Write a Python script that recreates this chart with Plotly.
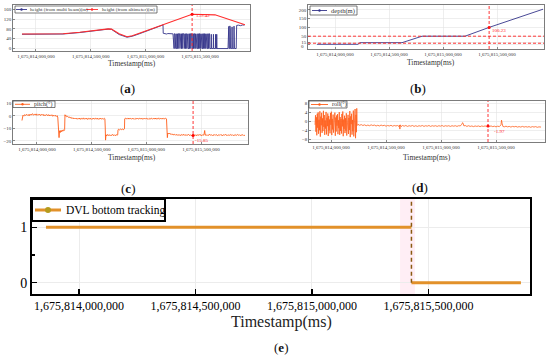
import plotly.graph_objects as go

W, H = 550, 360
T0 = 1675814000000  # ms, base of the time axis

# ---------------- data ----------------
x_tick_offsets_s = [0, 500, 1000, 1500]
x_tick_labels = ["1,675,814,000,000", "1,675,814,500,000",
                 "1,675,815,000,000", "1,675,815,500,000"]
loss_time_s = 1427

# (a) height (time offset s, m)
multibeam_height = [
    (-128, 58), (247, 59), (400, 65), (494, 71), (600, 76), (660, 79), (690, 78),
    (760, 57), (832, 46), (880, 50), (951, 61), (1060, 79), (1161, 96),
    (1163, 62), (1175, 60), (1185, 61), (1195, 59), (1205, 61), (1215, 60),
    (1225, 59), (1235, 61), (1245, 60), (1252, 60), (1256, 0), (1262, 0),
    (1264, 60), (1270, 60), (1272, 0), (1275, 60), (1281, 60), (1283, 0),
    (1290, 0), (1292, 60), (1296, 0), (1299, 60), (1305, 60), (1307, 0),
    (1311, 60), (1318, 60), (1320, 0), (1326, 0), (1328, 60), (1331, 0),
    (1334, 60), (1340, 60), (1342, 0), (1345, 60), (1352, 60), (1354, 0),
    (1360, 0), (1362, 60), (1366, 0), (1369, 60), (1376, 60), (1378, 0),
    (1382, 60), (1388, 60), (1390, 0), (1398, 0), (1400, 60), (1403, 0),
    (1406, 60), (1413, 60), (1415, 0), (1420, 60), (1426, 60), (1428, 0),
    (1434, 0), (1436, 60), (1440, 0), (1443, 60), (1450, 60), (1452, 0),
    (1457, 60), (1462, 0), (1466, 60), (1472, 60), (1474, 0), (1480, 0),
    (1482, 60), (1486, 0), (1489, 60), (1495, 60), (1497, 0), (1501, 60),
    (1506, 0), (1510, 60), (1516, 60), (1518, 0), (1524, 0), (1526, 60),
    (1530, 0), (1533, 60), (1540, 60), (1542, 0), (1547, 60), (1552, 0),
    (1556, 60), (1562, 60), (1564, 0), (1570, 0), (1572, 60), (1576, 0),
    (1580, 60), (1586, 60), (1588, 0), (1600, 0), (1602, 58), (1604, 0),
    (1620, 0), (1622, 58), (1624, 0), (1640, 0), (1642, 58), (1644, 0),
    (1650, 0), (1652, 58), (1654, 0), (1755, 0), (1757, 90), (1762, 90),
    (1764, 0), (1770, 0), (1772, 92), (1776, 80), (1778, 0), (1790, 0),
    (1792, 88), (1795, 0), (1808, 0), (1810, 91), (1814, 0), (1830, 0),
    (1834, 94), (1850, 95), (1870, 93), (1890, 96), (1905, 95),
]
altimeter_height = [
    (-128, 59), (247, 60), (400, 66), (494, 72), (600, 77), (660, 80), (690, 79),
    (760, 60), (832, 48), (880, 52), (951, 63), (1060, 80), (1161, 96),
    (1250, 112), (1427, 139.42), (1636, 137), (1910, 97),
]
altimeter_at_loss = 139.42

# (b) depth
depth = [(-167, 4), (213, 4), (231, 13), (620, 13), (806, 50), (1204, 50),
         (1427, 100.23), (1926, 204)]
depth_at_loss = 100.23
depth_limits = [10, 50]
depth_ticks = [0, 15, 50, 100, 150, 200]

# (c) pitch (deg)
pitch = [
    (-137, -3.8), (-133, -1.2), (-128, 0.4), (-120, -0.3), (-112, 0.9), (-104, 0.2),
    (-96, 1.1), (-88, 0.3), (-80, 1.0), (-72, -0.1), (-64, 1.3), (-56, 0.5),
    (-48, 0.9), (-40, 1.6), (-32, 0.4), (-24, 1.2), (-16, 0.6), (-8, 1.5),
    (0, 0.3), (8, 1.1), (16, 0.6), (24, 1.4), (32, 0.2), (40, 1.0), (48, 0.5),
    (56, 1.2), (64, -0.1), (72, 0.8), (80, 0.2), (88, 1.0), (96, 0.1), (104, 0.9),
    (112, -0.2), (120, 0.7), (128, 0.0), (136, 0.8), (144, -0.4), (152, 0.5),
    (160, -0.3), (168, 0.4), (176, -0.6), (184, 0.1), (190, -1.0),
    (194, -6), (198, -11), (202, -17.5), (206, -12), (212, -13.5), (218, -11.8),
    (224, -12.8), (230, -11.5), (236, -12.4), (242, -11.2), (248, -11.9),
    (253, -11), (256, 0.8),
    (260, -0.2), (266, 0.3), (272, -0.8), (280, -0.4), (288, -1.3), (296, -0.9),
    (304, -1.8), (312, -1.2), (320, -2.3), (328, -1.6), (336, -2.5), (344, -1.8),
    (352, -2.6), (360, -1.9), (368, -2.8), (376, -2.0), (384, -2.7), (392, -1.8),
    (400, -2.9), (408, -2.1), (416, -2.6), (424, -1.7), (432, -2.8), (440, -2.0),
    (448, -2.7), (456, -1.9), (464, -3.0), (472, -2.1), (480, -2.6), (488, -1.8),
    (496, -2.9), (504, -2.2), (512, -2.7), (520, -1.9), (528, -2.8), (536, -2.0),
    (544, -2.6), (552, -1.8), (560, -2.9), (568, -2.1), (576, -2.7), (584, -1.9),
    (592, -2.8), (600, -2.2), (608, -2.6), (616, -2.0), (621, -2.5),
    (624, -9), (627, -19.5), (631, -15.2), (637, -16.1), (644, -15.0), (652, -15.9),
    (660, -15.1), (668, -16.0), (676, -15.3), (684, -15.8), (692, -14.9),
    (700, -15.9), (708, -15.2), (716, -16.0), (724, -15.1), (732, -15.7),
    (738, -15.3),
    (741, -11.2), (748, -10.8), (756, -11.3), (764, -10.7), (772, -11.1),
    (780, -10.6), (788, -11.2), (796, -10.8), (800, -10.5),
    (802, -2.4), (808, -1.9), (816, -2.6), (824, -2.0), (832, -2.7), (840, -1.8),
    (848, -2.5), (856, -2.1), (864, -2.8), (872, -1.9), (880, -2.6), (888, -2.2),
    (896, -2.9), (904, -2.0), (912, -2.5), (920, -1.8), (928, -2.7), (936, -2.1),
    (944, -2.6), (952, -1.9), (960, -2.8), (968, -2.2), (976, -2.5), (984, -1.8),
    (992, -2.7), (1000, -2.0), (1008, -2.6), (1016, -2.2), (1024, -2.9),
    (1032, -2.0), (1040, -2.5), (1048, -1.9), (1056, -2.8), (1064, -2.1),
    (1072, -2.6), (1080, -1.8), (1088, -2.7), (1096, -2.2), (1104, -2.5),
    (1112, -1.7), (1120, -2.8), (1128, -2.1), (1136, -2.6), (1144, -1.9),
    (1152, -2.7), (1160, -2.0), (1168, -2.5), (1176, -1.9), (1184, -2.6),
    (1189, -9), (1192, -17.5), (1196, -13.8), (1202, -14.6), (1210, -13.9),
    (1218, -14.8), (1226, -14.3), (1234, -15.2), (1242, -14.6), (1250, -15.4),
    (1258, -14.8), (1266, -15.6), (1274, -14.9), (1282, -15.7), (1290, -15.0),
    (1298, -15.8), (1306, -15.1), (1314, -15.9), (1322, -15.0), (1330, -15.6),
    (1338, -14.8), (1346, -15.7), (1354, -15.0), (1362, -15.9), (1370, -15.1),
    (1378, -15.6), (1386, -14.9), (1394, -15.8), (1402, -15.2), (1410, -16.0),
    (1418, -15.3), (1427, -15.85), (1434, -15.0), (1442, -15.9), (1450, -15.2),
    (1458, -16.1), (1466, -15.1), (1474, -15.8), (1482, -14.9), (1490, -15.7),
    (1498, -15.1), (1506, -16.0), (1514, -15.2), (1522, -15.6), (1528, -14.5),
    (1533, -11.8), (1538, -15.6), (1546, -15.0), (1554, -15.9), (1562, -15.2),
    (1570, -15.7), (1578, -14.8), (1586, -15.6), (1594, -15.1), (1602, -15.9),
    (1610, -15.2), (1618, -15.8), (1626, -15.0), (1634, -15.7), (1642, -15.1),
    (1650, -15.9), (1658, -15.3), (1666, -15.8), (1674, -15.0), (1682, -15.7),
    (1690, -15.2), (1698, -16.0), (1706, -15.1), (1714, -15.6), (1722, -14.9),
    (1730, -15.7), (1738, -15.2), (1746, -15.9), (1754, -15.1), (1762, -15.8),
    (1770, -15.0), (1778, -15.6), (1786, -15.2), (1794, -15.9), (1802, -15.3),
    (1810, -15.8), (1818, -15.1), (1826, -15.7), (1834, -15.0), (1842, -15.6),
    (1850, -15.2), (1858, -15.9), (1866, -15.3), (1874, -15.7), (1882, -15.1),
    (1890, -15.8), (1898, -15.3), (1901, -15.6),
]
pitch_at_loss = -15.85

# (d) roll (deg)
roll = [
    (-145, -1.5), (-141, 2.8), (-137, -4.6), (-133, 1.9), (-129, -6.2), (-125, 3.5),
    (-121, -2.8), (-117, 4.1), (-113, -5.5), (-109, 0.8), (-105, -3.9), (-101, 4.6),
    (-97, -6.8), (-93, 2.2), (-89, -1.7), (-85, 3.9), (-81, -5.1), (-77, 1.4),
    (-73, -4.3), (-69, 4.8), (-65, -2.4), (-61, 2.9), (-57, -6.0), (-53, 0.5),
    (-49, -3.2), (-45, 4.3), (-41, -5.8), (-37, 1.7), (-33, -2.1), (-29, 3.6),
    (-25, -6.5), (-21, 2.5), (-17, -4.0), (-13, 0.9), (-9, -5.3), (-5, 3.8),
    (-1, -1.5), (3, 4.4), (7, -6.1), (11, 1.2), (15, -3.6), (19, 3.1), (23, -5.0),
    (27, 0.3), (31, -2.7), (35, 4.0), (39, -6.4), (43, 1.8), (47, -4.5), (51, 2.7),
    (55, -1.9), (59, 3.3), (63, -5.7), (67, 0.6), (71, -3.0), (75, 4.2), (79, -6.0),
    (83, 2.0), (87, -4.2), (91, 1.1), (95, -5.4), (99, 3.4), (103, -2.2), (107, 4.5),
    (111, -6.6), (115, 0.9), (119, -3.3), (123, 2.6), (127, -5.2), (131, 1.5),
    (135, -4.1), (139, 3.7), (143, -6.3), (147, 0.2), (151, -2.5), (155, 3.0),
    (159, -5.6), (163, 1.6), (167, -3.8), (171, 4.7), (175, -7.0), (179, 2.3),
    (183, -1.2), (187, 3.5), (191, -5.9), (195, 0.7), (199, -4.4), (203, 4.9),
    (207, -6.7), (211, 1.3), (215, -3.1), (219, 5.6), (223, -7.5), (227, 3.0),
    (231, -4.8), (234, 5.9), (237, -1.8),
    (245, -1.3), (260, -1.7), (275, -1.4), (290, -1.8), (305, -1.5), (320, -1.9),
    (335, -1.6), (350, -1.9), (365, -1.5), (380, -1.8), (395, -1.6), (410, -2.0),
    (425, -1.7), (440, -2.0), (455, -1.6), (470, -1.9), (485, -1.7), (500, -2.1),
    (515, -1.8), (530, -2.0), (545, -1.7), (560, -2.1), (575, -1.8), (590, -2.0),
    (605, -1.8), (615, -2.2), (622, -1.6), (626, -3.4), (630, -1.5), (638, -2.3),
    (650, -1.8), (665, -2.1), (680, -1.8), (695, -2.2), (710, -1.9), (725, -2.1),
    (740, -1.8), (755, -2.2), (770, -1.9), (785, -2.2), (800, -1.9), (815, -2.1),
    (830, -1.8), (845, -2.2), (860, -1.9), (875, -2.1), (890, -1.8), (905, -2.2),
    (920, -1.9), (935, -2.1), (950, -1.9), (965, -2.2), (980, -1.9), (995, -2.1),
    (1010, -1.8), (1025, -2.2), (1040, -1.9), (1055, -2.1), (1070, -1.9),
    (1085, -2.2), (1100, -1.9), (1115, -2.1), (1130, -1.9), (1145, -2.2),
    (1160, -1.9), (1175, -2.0), (1190, -1.2), (1196, -0.5), (1202, -1.0),
    (1208, -2.0), (1220, -1.8), (1235, -2.2), (1250, -1.9), (1265, -2.2),
    (1280, -2.0), (1295, -2.3), (1310, -2.0), (1325, -2.2), (1340, -2.0),
    (1355, -2.3), (1370, -2.0), (1385, -2.2), (1400, -2.0), (1415, -2.2),
    (1427, -1.97), (1440, -2.2), (1455, -2.0), (1470, -2.3), (1485, -2.1),
    (1500, -2.4), (1515, -2.1), (1530, -2.3), (1545, -1.5), (1550, 0.6),
    (1555, -0.8), (1562, -2.2), (1575, -2.4), (1590, -2.1), (1605, -2.4),
    (1620, -2.2), (1635, -2.5), (1650, -2.2), (1665, -2.4), (1680, -2.2),
    (1695, -2.5), (1710, -2.3), (1725, -2.5), (1740, -2.2), (1755, -2.5),
    (1770, -2.3), (1785, -2.5), (1800, -2.3), (1815, -2.6), (1830, -2.3),
    (1845, -2.5), (1860, -2.3), (1875, -2.6), (1890, -2.4), (1909, -2.5),
]
roll_at_loss = -1.97

# (e) DVL bottom tracking state
dvl_time_s = [-142, 1427, 1427, 1427, 1897]
dvl_state = [1, 1, None, 0, 0]

# ---------------- geometry / style ----------------
SERIF = "Liberation Serif"
panels = {
    "a": dict(xd=(13, 250), yd=(5, 51), xr=(-210, 1956), yr=(-10, 177),
              yt=[0, 40, 80, 120, 160]),
    "b": dict(xd=(308, 544), yd=(5, 49), xr=(-250, 1935), yr=(-23, 228),
              yt=depth_ticks),
    "c": dict(xd=(13, 248), yd=(101, 144), xr=(-219, 1929), yr=(-22.6, 11.8),
              yt=[-20, -10, 0, 10]),
    "d": dict(xd=(309, 545), yd=(101, 142), xr=(-200, 1945), yr=(-9.2, 9.2),
              yt=[-8, -4, 0, 4, 8]),
    "e": dict(xd=(32, 530), yd=(199, 294), xr=(-202, 1936), yr=(-0.204, 1.51),
              yt=[0, 1]),
}
order = ["a", "b", "c", "d", "e"]


def ms(seq):
    return [None if s is None else T0 + s * 1000 for s in seq]


def px(x):
    return x / W


def py(y):
    return 1 - y / H


fig = go.Figure()
layout = dict(width=W, height=H, margin=dict(l=0, r=0, t=0, b=0),
              paper_bgcolor="white", plot_bgcolor="white", showlegend=False)

for i, k in enumerate(order):
    p = panels[k]
    sfx = "" if i == 0 else str(i + 1)
    big = k == "e"
    common = dict(showline=True, mirror=True, zeroline=False,
                  linecolor="black" if big else "#444",
                  linewidth=2 if big else 0.7,
                  ticks="inside", ticklen=5 if big else 2,
                  tickwidth=1.5 if big else 0.6,
                  tickcolor="black" if big else "#444",
                  showgrid=True, gridcolor="#ececec" if big else "#e2e2e2",
                  gridwidth=1 if big else 0.6,
                  tickfont=dict(family=SERIF, size=12 if big else 5,
                                color="black" if big else "#333"))
    layout["xaxis" + sfx] = dict(
        common, domain=[px(p["xd"][0]), px(p["xd"][1])],
        anchor="y" + sfx, range=ms(p["xr"]),
        tickmode="array", tickvals=ms(x_tick_offsets_s), ticktext=x_tick_labels)
    ya = dict(common, domain=[py(p["yd"][1]), py(p["yd"][0])],
              anchor="x" + sfx, range=list(p["yr"]),
              tickmode="array", tickvals=p["yt"])
    if k == "b":
        # the "0" label is written separately just below, as in the source figure
        ya["ticktext"] = ["" if t == 0 else str(t) for t in p["yt"]]
    if big:
        ya["tickfont"] = dict(family=SERIF, size=14, color="black")
        ya["minor"] = dict(ticks="inside", ticklen=3, tickwidth=1.2,
                           tickcolor="black", tickmode="array", tickvals=[0.5],
                           showgrid=False)
    layout["yaxis" + sfx] = ya


def unzip(pairs):
    return [a for a, _ in pairs], [b for _, b in pairs]


NAVY = "#34348a"
RED = "#ff2d2d"
ORANGE = "#ff5e1a"

t, v = unzip(multibeam_height)
fig.add_trace(go.Scatter(x=ms(t), y=v, mode="lines", line=dict(color=NAVY, width=0.9),
                         xaxis="x", yaxis="y"))
t, v = unzip(altimeter_height)
fig.add_trace(go.Scatter(x=ms(t), y=v, mode="lines", line=dict(color=RED, width=1.1),
                         xaxis="x", yaxis="y"))
t, v = unzip(depth)
fig.add_trace(go.Scatter(x=ms(t), y=v, mode="lines", line=dict(color=NAVY, width=0.9),
                         xaxis="x2", yaxis="y2"))
t, v = unzip(pitch)
fig.add_trace(go.Scatter(x=ms(t), y=v, mode="lines", line=dict(color=ORANGE, width=0.9),
                         xaxis="x3", yaxis="y3"))
t, v = unzip(roll)
fig.add_trace(go.Scatter(x=ms(t), y=v, mode="lines", line=dict(color=ORANGE, width=0.8),
                         xaxis="x4", yaxis="y4"))

# markers at the loss instant
for ax, val in [("", altimeter_at_loss), ("2", depth_at_loss),
                ("3", pitch_at_loss), ("4", roll_at_loss)]:
    fig.add_trace(go.Scatter(x=ms([loss_time_s]), y=[val], mode="markers",
                             marker=dict(color="#ff0000", size=3),
                             xaxis="x" + ax, yaxis="y" + ax))

shapes = []
annotations = []

# pink highlight + dashed drop line in (e)
shapes.append(dict(type="rect", xref="x5", yref="y5 domain",
                   x0=ms([1378])[0], x1=ms([1442])[0], y0=0, y1=1,
                   fillcolor="rgba(255,205,225,0.35)", line=dict(width=0), layer="below"))
fig.add_trace(go.Scatter(x=ms(dvl_time_s), y=dvl_state, mode="lines",
                         line=dict(color="#e2912a", width=3), connectgaps=False,
                         xaxis="x5", yaxis="y5"))
shapes.append(dict(type="line", xref="x5", yref="y5",
                   x0=ms([loss_time_s])[0], x1=ms([loss_time_s])[0],
                   y0=0, y1=panels["e"]["yr"][1],
                   line=dict(color="#8a5a10", width=1.5, dash="4px,3px")))

# red dashed lines
for ax in ["", "2", "3", "4"]:
    shapes.append(dict(type="line", xref="x" + ax, yref="y" + ax + " domain",
                       x0=ms([loss_time_s])[0], x1=ms([loss_time_s])[0], y0=0, y1=1,
                       line=dict(color="#ff2020", width=0.9, dash="3px,2px")))
for lim in depth_limits:
    shapes.append(dict(type="line", xref="x2 domain", yref="y2", x0=0, x1=1,
                       y0=lim, y1=lim,
                       line=dict(color="#ff2020", width=0.9, dash="3px,2px")))


def text(x, y, s, size, color="#333", xanchor="center", family=SERIF):
    annotations.append(dict(x=px(x), y=py(y), xref="paper", yref="paper", text=s,
                            showarrow=False, xanchor=xanchor, yanchor="middle",
                            font=dict(family=family, size=size, color=color)))


# value labels
text(194, 15.5, str(altimeter_at_loss), 5, "#ff2020", "left")
text(490, 30.5, str(depth_at_loss), 5, "#ff2020", "left")
text(193, 141, str(pitch_at_loss), 5, "#ff2020", "left")
text(492, 131, str(roll_at_loss), 5, "#ff2020", "left")
text(306, 47, "0", 5, "#333", "right")

# axis titles and panel labels
text(132, 63, "Timestamp(ms)", 7.5)
text(431, 62, "Timestamp(ms)", 7.5)
text(132, 157, "Timestamp(ms)", 7.5)
text(427, 157, "Timestamp(ms)", 7.5)
text(281, 322, "Timestamp(ms)", 16, "#222")
for lab, x, y in [("a", 127, 88), ("b", 418, 88), ("c", 128, 188),
                  ("d", 420, 187), ("e", 281, 347)]:
    text(x, y, "(<b>" + lab + "</b>)", 13, "#111")


# hand-drawn small legends
def leg_rect(x0, x1, y0, y1, w, color):
    shapes.append(dict(type="rect", xref="paper", yref="paper", x0=px(x0), x1=px(x1),
                       y0=py(y1), y1=py(y0), line=dict(color=color, width=w),
                       fillcolor="white"))


def leg_sym(x0, x1, y, color, lw, r, mcolor=None):
    shapes.append(dict(type="line", xref="paper", yref="paper", x0=px(x0), x1=px(x1),
                       y0=py(y), y1=py(y), line=dict(color=color, width=lw)))
    cx = (x0 + x1) / 2
    shapes.append(dict(type="circle", xref="paper", yref="paper",
                       x0=px(cx - r), x1=px(cx + r), y0=py(y + r), y1=py(y - r),
                       fillcolor=mcolor or color, line=dict(width=0)))


leg_rect(15, 157, 6, 13, 0.7, "#444")
leg_sym(16, 27, 9.5, NAVY, 0.9, 1.2)
text(28, 9.5, "height (from multi beam)(m)", 5, "#333", "left")
leg_sym(86, 98, 9.5, RED, 0.9, 1.2)
text(100, 9.5, "height (from altimeter)(m)", 5, "#333", "left")

leg_rect(310, 357, 6, 15, 0.7, "#444")
leg_sym(312, 327, 10.5, NAVY, 0.9, 1.2)
text(329, 10.5, "depth(m)", 6.5, "#333", "left")

leg_rect(13, 55, 101, 107.5, 0.7, "#444")
leg_sym(15, 30, 104.3, ORANGE, 0.9, 1.2)
text(32, 104.3, "pitch(°)", 6, "#333", "left")

leg_rect(309, 347, 101, 108, 0.7, "#444")
leg_sym(311, 328, 104.5, ORANGE, 0.9, 1.2)
text(330, 104.5, "roll(°)", 6, "#333", "left")

leg_rect(32, 165, 199, 221, 2, "black")
leg_sym(35, 61, 210, "#e2912a", 3, 3, "#b59b1c")
text(64, 210, "DVL bottom tracking", 11.5, "black", "left")

layout["shapes"] = shapes
layout["annotations"] = annotations
fig.update_layout(**layout)
fig.write_html("out.html", config={"displayModeBar": False, "staticPlot": True},
               post_script="document.body.style.margin='0px';"
                           "document.body.style.overflow='hidden';")
